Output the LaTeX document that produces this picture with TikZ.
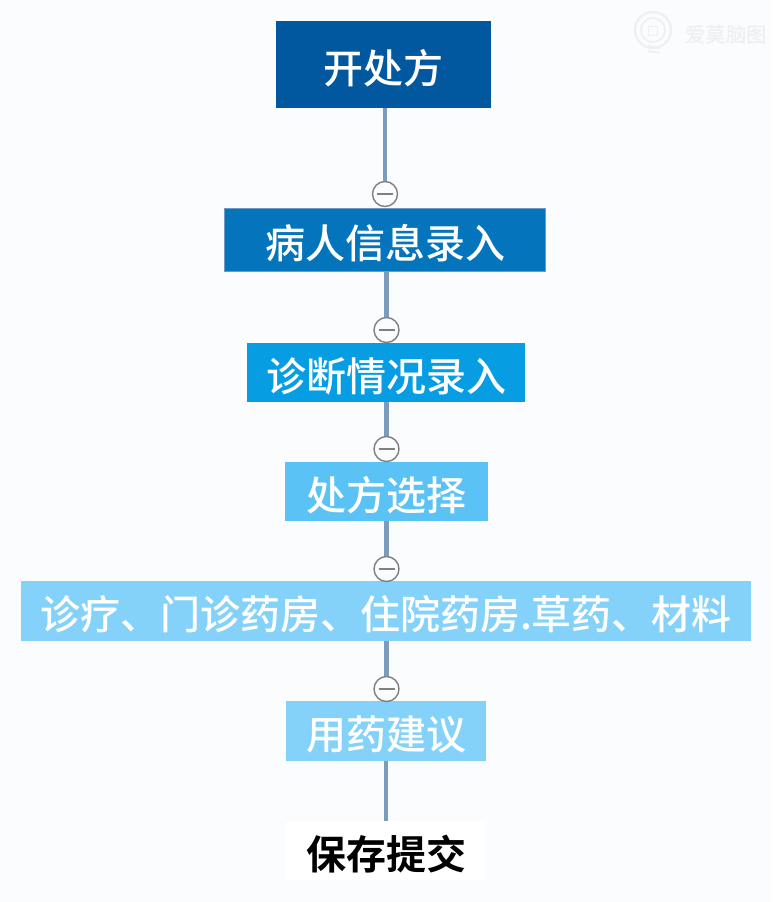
\documentclass[tikz,border=0pt]{standalone}
\usepackage{fontspec}
\setmainfont{Noto Sans CJK SC Medium}
\newfontfamily\cjkbold{Noto Sans CJK SC Bold}
\definecolor{bgc}{HTML}{FBFCFD}
\definecolor{linkc}{HTML}{7C9BBF}
\definecolor{cA}{HTML}{02589E}
\definecolor{cB}{HTML}{0474BC}
\definecolor{cBb}{HTML}{6C9BC6}
\definecolor{cC}{HTML}{069DE3}
\definecolor{cD}{HTML}{5AC2F5}
\definecolor{cE}{HTML}{84D2FA}
\definecolor{wm}{HTML}{EEEFF1}
\tikzset{
  x=1pt,y=-1pt,
  box/.style={draw=none,rectangle,inner sep=0pt,text=white,text height=37pt,text depth=0pt,font=\fontsize{40}{42}\selectfont,anchor=center},
  toggle/.style={circle,draw=black!50,fill=bgc,line width=1.4pt,minimum size=25pt,inner sep=0pt},
  link/.style={draw=linkc,line width=4.4pt},
}
\begin{document}
\begin{tikzpicture}
\useasboundingbox (0,0) rectangle (772,902);
\fill[bgc] (0,0) rectangle (772,902);
% watermark
\node[text=wm,font=\fontsize{20.5}{22}\selectfont,inner sep=0pt] (wmark) at (726,35) {爱莫脑图};
\node[circle,draw=wm,line width=2.2pt,minimum size=36pt,inner sep=0pt] (bulb) at (653,30) {};
\node[circle,draw=wm,line width=1.6pt,minimum size=24pt,inner sep=0pt] (bulbm) at (653,30) {};
\node[rectangle,draw=wm,line width=1.4pt,minimum size=9pt,inner sep=0pt] (bulbin) at (653,31) {};
\coordinate (b1) at (648,46);
\coordinate (b2) at (660,48);
\coordinate (b3) at (648,51);
\coordinate (b4) at (660,53);
\draw[draw=wm,line width=1.6pt] (b1) -- (b2) (b3) -- (b4);
% positions of the toggles
\coordinate (k1) at (385,194);
\coordinate (k2) at (386.5,330);
\coordinate (k3) at (386.5,449);
\coordinate (k4) at (386.5,569);
\coordinate (k5) at (386.5,689);
\node[box,fill=cA,minimum width=215pt,minimum height=87pt] (n1) at (383.5,64.5) {开处方};
\node[box,fill=cB,draw=cBb,line width=1.4pt,minimum width=321pt,minimum height=63pt] (n2) at (385,240) {病人信息录入};
\node[box,fill=cC,minimum width=278pt,minimum height=59pt] (n3) at (386,372.5) {诊断情况录入};
\node[box,fill=cD,minimum width=203pt,minimum height=59pt] (n4) at (386,491.5) {处方选择};
\node[box,fill=cE,minimum width=730pt,minimum height=60pt] (n5) at (386,611) {诊疗、门诊药房、住院药房.草药、材料};
\node[box,fill=cE,minimum width=200pt,minimum height=60pt] (n6) at (386,731) {用药建议};
\node[box,fill=white,text=black,minimum width=200pt,minimum height=59pt,font=\cjkbold\fontsize{40}{42}\selectfont] (n7) at (386,850.5) {保存提交};
\node[toggle] (t1) at (k1) {};
\node[toggle] (t2) at (k2) {};
\node[toggle] (t3) at (k3) {};
\node[toggle] (t4) at (k4) {};
\node[toggle] (t5) at (k5) {};
\foreach \t in {t1,t2,t3,t4,t5}{
  \draw[draw=black!50,line width=1.6pt] ([xshift=-8pt]\t.center) -- ([xshift=8pt]\t.center);
}
\draw[link] (n1.south -| t1) -- (t1.north);
\draw[link] (n2.south -| t2) -- (t2.north);
\draw[link] (n3.south -| t3) -- (t3.north);
\draw[link] (n4.south -| t4) -- (t4.north);
\draw[link] (n5.south -| t5) -- (t5.north);
\draw[link] (n6.south -| n7) -- (n7.north);
\end{tikzpicture}
\end{document}
